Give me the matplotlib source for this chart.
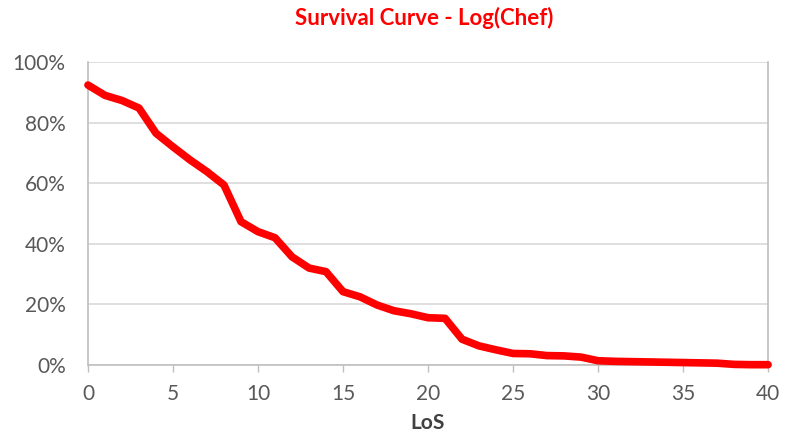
import matplotlib.pyplot as plt
from matplotlib.ticker import PercentFormatter

los = list(range(0, 41))
survival = [92.4, 89.0, 87.3, 84.8, 76.5, 72.0, 67.7, 63.8, 59.4, 47.3,
            44.0, 42.0, 35.7, 32.0, 30.8, 24.2, 22.5, 19.8, 17.9, 16.9,
            15.6, 15.4, 8.5, 6.3, 5.0, 3.8, 3.7, 3.1, 3.0, 2.6,
            1.4, 1.2, 1.1, 1.0, 0.9, 0.8, 0.7, 0.6, 0.2, 0.1, 0.1]

plt.rcParams['font.family'] = ['Lato', 'DejaVu Sans']

fig = plt.figure(figsize=(7.89, 4.38), dpi=100)
ax = fig.add_axes([0.1115, 0.1667, 0.862, 0.6917])

ax.plot(los, survival, color='#ff0000', linewidth=5.5, solid_joinstyle='round',
        solid_capstyle='round', clip_on=False, zorder=3)

ax.set_xlim(0, 40)
ax.set_ylim(0, 100)
ax.set_xticks(range(0, 41, 5))
ax.set_yticks(range(0, 101, 20))
ax.yaxis.set_major_formatter(PercentFormatter(decimals=0))

ax.grid(axis='y', color='#d9d9d9', linewidth=1.2)
ax.set_axisbelow(True)
for s in ['left', 'right', 'bottom']:
    ax.spines[s].set_color('#bfbfbf')
    ax.spines[s].set_linewidth(1.2)
ax.spines['top'].set_visible(False)

ax.tick_params(axis='x', colors='#bfbfbf', labelcolor='#595959', labelsize=15,
               length=5, width=1, pad=9)
ax.tick_params(axis='y', length=0, labelcolor='#595959', labelsize=15, pad=16)

ax.set_xlabel('LoS', fontsize=15, fontweight='bold', color='#404040', labelpad=6)
fig.suptitle('Survival Curve - Log(Chef)', x=0.538, y=0.985, fontsize=16,
             fontweight='bold', color='#ff0000')

fig.savefig('out.png', dpi=100)
